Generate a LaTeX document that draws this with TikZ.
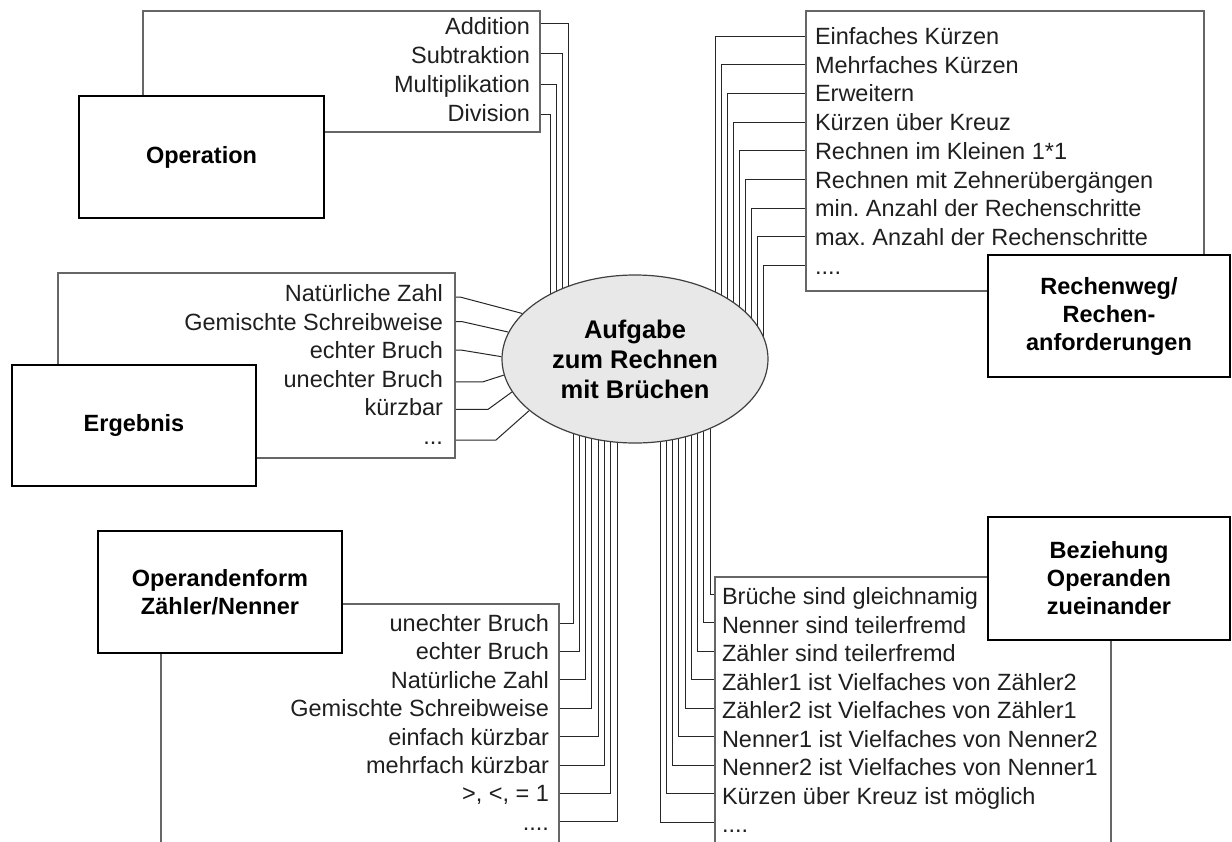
\documentclass[tikz,border=0pt]{standalone}
\usepackage{fontspec}
\setmainfont{Liberation Sans}
\usetikzlibrary{shapes.geometric,calc}
\pgfdeclarelayer{back}
\pgfsetlayers{back,main}
\frenchspacing

\tikzset{
  conn/.style={draw=black!85, line width=1pt},
  listbox/.style={draw=black!60, line width=1.3pt, inner sep=0pt, outer sep=0pt, anchor=north west},
  mainbox/.style={draw=black, line width=2.6pt, fill=white, inner sep=0pt, outer sep=0pt,
    anchor=north west, align=center, font=\fontsize{23.5}{28}\selectfont\bfseries},
  item/.style={inner sep=0pt, outer sep=0pt, text height=17pt, text depth=0pt,
    font=\fontsize{23.5}{28}\selectfont, text=black!88},
  ritem/.style={item, anchor=east},
  litem/.style={item, anchor=west},
  task/.style={ellipse, draw=black!75, line width=1.2pt, fill=black!9, inner sep=0pt,
    minimum width=266pt, minimum height=168pt, align=center,
    font=\fontsize{25.5}{30}\selectfont\bfseries},
}

\begin{document}
\begin{tikzpicture}[x=1pt,y=-1pt]
\clip (0,0) rectangle (1232,841);

% central ellipse
\node[task] (task) at (635,359) {Aufgabe\\zum Rechnen\\mit Brüchen};

% ---------- Operation ----------
\node[listbox, minimum width=397pt, minimum height=121pt] (opl) at (143,11) {};
\node[mainbox, minimum width=245pt, minimum height=122pt] (op) at (79,96) {Operation};
\node[ritem] (op1) at (530,26) {Addition};
\node[ritem] (op2) at (530,55) {Subtraktion};
\node[ritem] (op3) at (530,84) {Multiplikation};
\node[ritem] (op4) at (530,113) {Division};

% ---------- Ergebnis ----------
\node[listbox, minimum width=397pt, minimum height=185pt] (erl) at (58,273) {};
\node[mainbox, minimum width=244pt, minimum height=121pt] (er) at (12,365) {Ergebnis};
\node[ritem] (er1) at (443,293) {Natürliche Zahl};
\node[ritem] (er2) at (443,321.6) {Gemischte Schreibweise};
\node[ritem] (er3) at (443,350.2) {echter Bruch};
\node[ritem] (er4) at (443,378.8) {unechter Bruch};
\node[ritem] (er5) at (443,407.4) {kürzbar};
\node[ritem] (er6) at (443,436) {...};

% ---------- Rechenweg ----------
\node[listbox, minimum width=398pt, minimum height=280pt] (rwl) at (806,11) {};
\node[mainbox, minimum width=242pt, minimum height=122pt] (rw) at (988,255) {Rechenweg/\\Rechen-\\anforderungen};
\node[litem] (rw1) at (815,36) {Einfaches Kürzen};
\node[litem] (rw2) at (815,64.7) {Mehrfaches Kürzen};
\node[litem] (rw3) at (815,93.4) {Erweitern};
\node[litem] (rw4) at (815,122.1) {Kürzen über Kreuz};
\node[litem] (rw5) at (815,150.8) {Rechnen im Kleinen 1*1};
\node[litem] (rw6) at (815,179.5) {Rechnen mit Zehnerübergängen};
\node[litem] (rw7) at (815,208.2) {min. Anzahl der Rechenschritte};
\node[litem] (rw8) at (815,236.9) {max. Anzahl der Rechenschritte};
\node[litem] (rw9) at (815,265.6) {....};

% ---------- Operandenform ----------
\node[listbox, minimum width=398pt, minimum height=300pt] (ofl) at (161,604) {};
\node[mainbox, minimum width=244pt, minimum height=122pt] (of) at (98,531) {Operandenform\\Zähler/Nenner};
\node[ritem] (of1) at (549,623) {unechter Bruch};
\node[ritem] (of2) at (549,651.4) {echter Bruch};
\node[ritem] (of3) at (549,679.8) {Natürliche Zahl};
\node[ritem] (of4) at (549,708.2) {Gemischte Schreibweise};
\node[ritem] (of5) at (549,736.6) {einfach kürzbar};
\node[ritem] (of6) at (549,765) {mehrfach kürzbar};
\node[ritem] (of7) at (549,793.4) {>, <, = 1};
\node[ritem] (of8) at (549,821.8) {....};

% ---------- Beziehung ----------
\node[listbox, minimum width=396pt, minimum height=330pt] (bzl) at (715,577) {};
\node[mainbox, minimum width=242pt, minimum height=123pt] (bz) at (988,517) {Beziehung\\Operanden\\zueinander};
\node[litem] (bz1) at (722,596) {Brüche sind gleichnamig};
\node[litem] (bz2) at (722,624.5) {Nenner sind teilerfremd};
\node[litem] (bz3) at (722,653) {Zähler sind teilerfremd};
\node[litem] (bz4) at (722,681.5) {Zähler1 ist Vielfaches von Zähler2};
\node[litem] (bz5) at (722,710) {Zähler2 ist Vielfaches von Zähler1};
\node[litem] (bz6) at (722,738.5) {Nenner1 ist Vielfaches von Nenner2};
\node[litem] (bz7) at (722,767) {Nenner2 ist Vielfaches von Nenner1};
\node[litem] (bz8) at (722,795.5) {Kürzen über Kreuz ist möglich};
\node[litem] (bz9) at (722,824) {....};

% ---------- connectors (behind boxes and ellipse) ----------
\begin{pgfonlayer}{back}
  \foreach \i/\dy/\dx in {1/-3/-67,2/-2/-73,3/0/-79,4/1/-85}
    \draw[conn] ($(opl.east |- op\i)+(0,\dy)$) -| ([xshift=\dx pt]task.center);
  \foreach \i/\dy/\s/\a in {1/4/5/158,2/0/7/168,3/0/7/179,4/3/28/187,5/2/33/195,6/4/41/206}
    \draw[conn] ($(erl.east |- er\i)+(0,\dy)$) -- ++(\s,0) -- (task.\a);
  \foreach \i/\dx in {1/80,2/86,3/92,4/98,5/104.3,6/110.5,7/116.6,8/122.7,9/128.8}
    \draw[conn] (rwl.west |- rw\i) -| ([xshift=\dx pt]task.center);
  \foreach \i/\dx in {1/-62,2/-55.7,3/-49.4,4/-43.1,5/-36.8,6/-30.5,7/-24.2,8/-17.9}
    \draw[conn] (ofl.east |- of\i) -| ([xshift=\dx pt]task.center);
  \foreach \i/\dx in {1/75,2/68.8,3/62.5,4/56.3,5/50,6/43.8,7/37.5,8/31.3,9/25}
    \draw[conn] ($(bzl.west |- bz\i)+(0,-2)$) -| ([xshift=\dx pt]task.center);
\end{pgfonlayer}
\end{tikzpicture}
\end{document}
